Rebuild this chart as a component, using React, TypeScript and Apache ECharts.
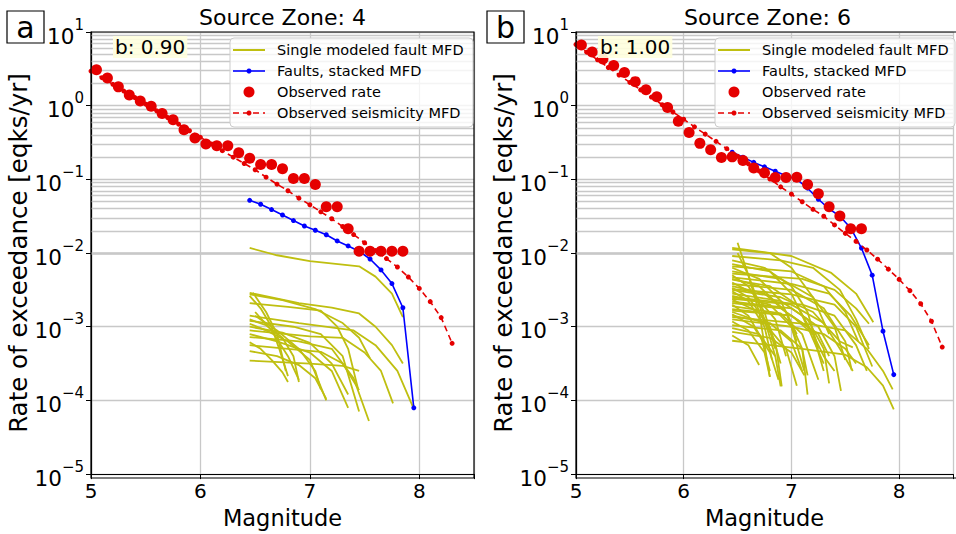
import React, { useEffect, useRef } from 'react';
import * as echarts from 'echarts';

// ---------------- data ----------------
const zone4ObsMag = [5.05, 5.15, 5.25, 5.35, 5.45, 5.55, 5.65, 5.75, 5.85, 5.95, 6.05, 6.15, 6.25, 6.35, 6.45, 6.55, 6.65, 6.75, 6.85, 6.95, 7.05, 7.15, 7.25, 7.35, 7.45, 7.55, 7.65, 7.75, 7.85];
const zone4ObsRate = [3.08, 2.38, 1.8, 1.4, 1.16, 0.98, 0.785, 0.645, 0.47, 0.365, 0.303, 0.285, 0.286, 0.23, 0.194, 0.159, 0.159, 0.139, 0.103, 0.103, 0.085, 0.0425, 0.0425, 0.0213, 0.0106, 0.0106, 0.0106, 0.0106, 0.0106];

const zone4MfdMag = [5.0, 5.1, 5.2, 5.3, 5.4, 5.5, 5.6, 5.7, 5.8, 5.9, 6.0, 6.1, 6.2, 6.3, 6.4, 6.5, 6.6, 6.7, 6.8, 6.9, 7.0, 7.1, 7.2, 7.3, 7.4, 7.5, 7.6, 7.7, 7.8, 7.9, 8.0, 8.1, 8.2, 8.3];
const zone4MfdRate = [2.95, 2.4, 1.95, 1.58, 1.29, 1.05, 0.851, 0.692, 0.562, 0.457, 0.372, 0.302, 0.245, 0.2, 0.164, 0.135, 0.107, 0.0861, 0.07, 0.0556, 0.0452, 0.0363, 0.0292, 0.0229, 0.0178, 0.0138, 0.0108, 0.00841, 0.00646, 0.00473, 0.00331, 0.00219, 0.00133, 0.000596];

const stackedMag = [6.45, 6.55, 6.65, 6.75, 6.85, 6.95, 7.05, 7.15, 7.25, 7.35, 7.45, 7.55, 7.65, 7.75, 7.85, 7.95];
const zone4StackedRate = [0.052, 0.046, 0.0389, 0.0328, 0.0276, 0.0233, 0.0204, 0.0177, 0.0146, 0.0125, 0.0106, 0.0083, 0.0059, 0.00385, 0.00181, 0.0000794];

const zone6ObsMag = [5.05, 5.15, 5.25, 5.35, 5.45, 5.55, 5.65, 5.75, 5.85, 5.95, 6.05, 6.15, 6.25, 6.35, 6.45, 6.55, 6.65, 6.75, 6.85, 6.95, 7.05, 7.15, 7.25, 7.35, 7.45, 7.55, 7.65];
const zone6ObsRate = [6.67, 5.37, 4.29, 3.52, 2.83, 2.12, 1.64, 1.32, 0.948, 0.615, 0.434, 0.308, 0.253, 0.198, 0.202, 0.18, 0.143, 0.123, 0.106, 0.106, 0.107, 0.085, 0.064, 0.0425, 0.0318, 0.0213, 0.0213];

const zone6MfdMag = [5.0, 5.1, 5.2, 5.3, 5.4, 5.5, 5.6, 5.7, 5.8, 5.9, 6.0, 6.1, 6.2, 6.3, 6.4, 6.5, 6.6, 6.7, 6.8, 6.9, 7.0, 7.1, 7.2, 7.3, 7.4, 7.5, 7.6, 7.7, 7.8, 7.9, 8.0, 8.1, 8.2, 8.3, 8.4];
const zone6MfdRate = [6.76, 5.32, 4.19, 3.3, 2.61, 2.07, 1.64, 1.31, 1.03, 0.82, 0.655, 0.516, 0.411, 0.328, 0.261, 0.206, 0.163, 0.13, 0.101, 0.0791, 0.0631, 0.0497, 0.0392, 0.0316, 0.0241, 0.0185, 0.0144, 0.011, 0.00826, 0.00605, 0.00439, 0.00309, 0.00205, 0.00119, 0.00053];

const zone6StackedRate = [0.234, 0.2, 0.17, 0.148, 0.129, 0.112, 0.1, 0.0759, 0.0537, 0.0398, 0.0316, 0.0219, 0.0117, 0.00501, 0.00087, 0.000224];

// single modeled fault MFDs: [magnitude, log10(rate)]
const zone4FaultLogRates: number[][][] = [
  [[6.45, -1.93], [6.7, -2.03], [7.0, -2.11], [7.45, -2.18], [7.6, -2.32], [7.75, -2.55], [7.85, -2.87]],
  [[6.45, -2.54], [6.9, -2.68], [7.2, -2.74], [7.45, -2.82], [7.6, -3.0], [7.75, -3.25], [7.85, -3.5]],
  [[6.45, -2.56], [6.75, -2.64], [7.05, -2.76], [7.3, -2.95], [7.45, -3.15], [7.55, -3.43]],
  [[6.45, -2.58], [6.55, -2.75], [6.65, -3.0], [6.72, -3.3], [6.8, -3.67]],
  [[6.45, -2.68], [6.8, -2.73], [7.1, -2.78], [7.25, -3.0], [7.35, -3.3], [7.44, -3.84]],
  [[6.45, -2.85], [6.9, -2.95], [7.4, -3.05], [7.6, -3.25], [7.8, -3.6], [7.94, -4.08]],
  [[6.45, -2.9], [6.6, -2.98], [6.75, -3.15], [6.85, -3.4], [6.9, -3.75]],
  [[6.45, -2.92], [6.85, -3.0], [7.1, -3.1], [7.3, -3.4], [7.45, -4.15]],
  [[6.45, -2.96], [6.6, -3.05], [6.8, -3.2], [7.0, -3.45], [7.15, -4.0]],
  [[6.45, -3.05], [7.0, -3.13], [7.3, -3.15], [7.5, -3.35], [7.65, -3.6], [7.76, -4.04]],
  [[6.45, -3.1], [6.7, -3.2], [7.0, -3.35], [7.2, -3.6], [7.35, -4.1]],
  [[6.45, -3.14], [6.9, -3.2], [7.2, -3.3], [7.4, -3.7], [7.54, -4.28]],
  [[6.45, -3.21], [6.55, -3.3], [6.65, -3.45], [6.75, -3.62], [6.8, -3.75]],
  [[6.45, -3.25], [6.8, -3.3], [7.1, -3.34], [7.3, -3.5], [7.45, -3.86]],
  [[6.45, -3.33], [6.7, -3.4], [6.9, -3.52], [7.05, -3.7], [7.15, -3.98]],
  [[6.45, -3.46], [7.0, -3.5], [7.3, -3.53], [7.45, -3.6]],
  [[6.48, -2.54], [6.6, -2.8], [6.7, -3.1], [6.78, -3.6]],
  [[6.5, -2.8], [6.65, -3.05], [6.8, -3.4], [6.9, -3.72]],
  [[6.5, -2.85], [6.7, -3.05], [6.9, -3.3], [7.05, -3.6], [7.1, -3.85]],
  [[6.45, -3.0], [6.75, -3.08], [7.0, -3.22], [7.2, -3.5], [7.35, -3.92]],
];

const zone6FaultLogRates: number[][][] = [
  [[6.45, -1.93], [7.0, -2.04], [7.37, -2.27], [7.6, -2.55], [7.76, -2.94]],
  [[6.45, -1.95], [6.8, -2.0], [7.0, -2.2], [7.2, -2.6], [7.35, -3.1]],
  [[6.5, -1.86], [6.6, -2.3], [6.7, -2.8], [6.8, -3.68]],
  [[6.45, -2.04], [6.9, -2.1], [7.2, -2.2], [7.45, -2.5], [7.6, -2.9], [7.72, -3.3]],
  [[6.45, -2.1], [6.75, -2.2], [7.0, -2.45], [7.15, -2.8], [7.25, -3.3]],
  [[6.45, -2.18], [7.0, -2.25], [7.3, -2.45], [7.5, -2.8], [7.62, -3.2]],
  [[6.45, -2.2], [6.7, -2.35], [6.9, -2.65], [7.05, -3.1]],
  [[6.45, -2.25], [6.9, -2.35], [7.2, -2.6], [7.4, -3.0], [7.5, -3.45]],
  [[6.45, -2.3], [6.6, -2.45], [6.75, -2.8], [6.85, -3.3]],
  [[6.45, -2.33], [7.0, -2.42], [7.35, -2.55], [7.55, -2.85], [7.72, -3.25]],
  [[6.45, -2.36], [6.8, -2.45], [7.05, -2.7], [7.2, -3.1], [7.3, -3.6]],
  [[6.45, -2.4], [6.65, -2.55], [6.85, -2.9], [6.95, -3.4]],
  [[6.45, -2.42], [7.0, -2.5], [7.3, -2.75], [7.5, -3.2], [7.56, -3.59]],
  [[6.45, -2.45], [6.75, -2.55], [6.95, -2.8], [7.1, -3.3], [7.15, -3.66]],
  [[6.45, -2.49], [7.0, -2.56], [7.4, -2.7], [7.6, -3.0], [7.75, -3.54]],
  [[6.45, -2.52], [6.6, -2.65], [6.75, -3.0], [6.82, -3.45]],
  [[6.45, -2.55], [6.9, -2.65], [7.15, -2.9], [7.3, -3.3], [7.35, -3.77]],
  [[6.45, -2.58], [6.8, -2.7], [7.0, -3.0], [7.12, -3.6]],
  [[6.45, -2.6], [7.1, -2.7], [7.4, -2.85], [7.6, -3.25], [7.7, -3.6]],
  [[6.45, -2.63], [6.7, -2.8], [6.85, -3.2], [6.91, -3.81]],
  [[6.45, -2.66], [7.0, -2.75], [7.25, -3.0], [7.4, -3.4], [7.46, -3.87]],
  [[6.45, -2.7], [6.6, -2.85], [6.72, -3.15], [6.8, -3.6]],
  [[6.45, -2.72], [6.9, -2.82], [7.1, -3.1], [7.25, -3.72]],
  [[6.45, -2.76], [7.0, -2.85], [7.2, -3.1], [7.3, -3.4], [7.4, -3.6]],
  [[6.45, -2.8], [6.75, -2.95], [6.95, -3.3], [7.05, -3.8]],
  [[6.45, -2.83], [6.65, -3.0], [6.8, -3.35], [6.88, -3.72]],
  [[6.45, -2.87], [7.2, -2.97], [7.5, -3.05], [7.7, -3.3], [7.85, -3.6], [7.94, -3.85]],
  [[6.45, -2.9], [7.0, -3.0], [7.3, -3.1], [7.5, -3.3], [7.6, -3.5]],
  [[6.45, -2.93], [6.6, -3.05], [6.75, -3.35], [6.8, -3.68]],
  [[6.45, -2.98], [6.9, -3.05], [7.1, -3.3], [7.15, -3.92]],
  [[6.45, -3.02], [6.7, -3.1], [6.85, -3.4], [6.9, -3.81]],
  [[6.45, -3.07], [6.8, -3.15], [7.0, -3.35], [7.12, -3.66]],
  [[6.45, -3.12], [6.6, -3.25], [6.7, -3.52]],
  [[6.45, -3.19], [7.1, -3.3], [7.5, -3.38], [7.7, -3.55], [7.85, -3.8], [7.95, -4.12]],
  [[6.45, -2.5], [6.9, -2.6], [7.2, -2.8], [7.45, -3.2], [7.57, -3.28]],
  [[6.45, -2.28], [7.1, -2.35], [7.4, -2.5], [7.6, -2.75], [7.72, -2.96]],
  [[6.45, -2.15], [6.8, -2.25], [7.0, -2.55], [7.15, -3.0]],
  [[6.45, -2.62], [7.0, -2.7], [7.3, -2.95], [7.45, -3.3], [7.57, -3.6]],
  [[6.45, -2.68], [6.9, -2.75], [7.15, -3.0], [7.3, -3.5]],
  [[6.45, -2.35], [6.7, -2.45], [6.95, -2.8], [7.05, -3.2]],
  [[6.45, -2.78], [7.0, -2.85], [7.25, -3.1], [7.35, -3.4]],
  [[6.45, -2.47], [6.6, -2.6], [6.8, -3.0], [6.9, -3.5]],
  [[6.5, -2.0], [6.6, -2.3], [6.75, -2.9], [6.85, -3.4]],
  [[6.45, -2.85], [6.8, -2.95], [7.0, -3.2], [7.1, -3.6]],
];

const panelTitles = ['Source Zone: 4', 'Source Zone: 6'];
const panelLetters = ['a', 'b'];
const bValueLabels = ['b: 0.90', 'b: 1.00'];
const legendNames = ['Single modeled fault MFD', 'Faults, stacked MFD', 'Observed rate', 'Observed seismicity MFD'];
const xTickLabels = [5, 6, 7, 8];
const minorMantissas = [2, 3, 4, 5, 6, 7, 8, 9];
const decadeExponents = [-5, -4, -3, -2, -1, 0];

// ---------------- styling ----------------
const FONT = "'DejaVu Sans', Verdana, sans-serif";
const YELLOW = '#bfbf10';
const BLUE = '#0000ff';
const RED = '#e50000';
const GRID_COLOR = '#c8c8c8';

const panels = [
  { left: 91, obsMag: zone4ObsMag, obsRate: zone4ObsRate, mfdMag: zone4MfdMag, mfdRate: zone4MfdRate, stackRate: zone4StackedRate, faults: zone4FaultLogRates, legendX: 230, legendW: 243, bX: 113 },
  { left: 576, obsMag: zone6ObsMag, obsRate: zone6ObsRate, mfdMag: zone6MfdMag, mfdRate: zone6MfdRate, stackRate: zone6StackedRate, faults: zone6FaultLogRates, legendX: 715, legendW: 240, bX: 598 },
];
const GRID_TOP = 32;
const GRID_W = 383;
const GRID_H = 446;

function supLabel(v: number) {
  const e = Math.round(Math.log10(v));
  const s = e < 0 ? '\u2212' + String(-e) : String(e);
  return '{b|10}{s|' + s + '}';
}

function buildOption() {
  const grid: any[] = [];
  const xAxis: any[] = [];
  const yAxis: any[] = [];
  const series: any[] = [];
  const graphic: any[] = [];

  const minorLines = decadeExponents.flatMap((e) => minorMantissas.map((m) => ({ yAxis: m * Math.pow(10, e) })));

  panels.forEach((p, i) => {
    grid.push({ left: p.left, top: GRID_TOP, width: GRID_W, height: GRID_H, containLabel: false });
    xAxis.push({
      type: 'value', gridIndex: i, min: 5, max: 8.5, interval: 1,
      name: 'Magnitude', nameLocation: 'middle', nameGap: 28,
      nameTextStyle: { fontSize: 22.5, fontFamily: FONT, color: '#000' },
      axisLine: { show: true, onZero: false, lineStyle: { color: '#000', width: 1.2 } },
      axisTick: { show: true, length: 5, inside: false, lineStyle: { color: '#000', width: 1 } },
      axisLabel: {
        fontSize: 20, fontFamily: FONT, color: '#000', margin: 7,
        formatter: (v: number) => (xTickLabels.indexOf(v) >= 0 ? String(v) : ''),
      },
      splitLine: { show: true, lineStyle: { color: GRID_COLOR, width: 1.3 } },
    });
    yAxis.push({
      type: 'log', gridIndex: i, logBase: 10, min: 1e-5, max: 10, splitNumber: 6,
      name: 'Rate of exceedance [eqks/yr]', nameLocation: 'middle', nameGap: 55,
      nameTextStyle: { fontSize: 24.5, fontFamily: FONT, color: '#000' },
      axisLine: { show: true, onZero: false, lineStyle: { color: '#000', width: 1.2 } },
      axisTick: { show: true, length: 5, lineStyle: { color: '#000', width: 1 } },
      minorTick: { show: false },
      axisLabel: {
        margin: 7, color: '#000', fontFamily: FONT,
        formatter: supLabel,
        rich: {
          b: { fontSize: 21.5, fontFamily: FONT, color: '#000', lineHeight: 30, verticalAlign: 'bottom' },
          s: { fontSize: 15, fontFamily: FONT, color: '#000', lineHeight: 14, verticalAlign: 'top' },
        },
      },
      splitLine: { show: true, lineStyle: { color: GRID_COLOR, width: 1.3 } },
    });

    // minor log gridlines (2..9 x 10^k)
    series.push({
      type: 'line', xAxisIndex: i, yAxisIndex: i, data: [[5, 1]], symbol: 'none', silent: true,
      lineStyle: { width: 0, opacity: 0 }, z: 1,
      markLine: {
        silent: true, symbol: ['none', 'none'], z: 1, animation: false,
        label: { show: false },
        lineStyle: { type: 'solid', color: GRID_COLOR, width: 1.3 },
        emphasis: { disabled: true },
        data: minorLines,
      },
    });

    p.faults.forEach((pts) => {
      series.push({
        type: 'line', name: legendNames[0], xAxisIndex: i, yAxisIndex: i,
        data: pts.map(([m, l]) => [m, Math.pow(10, l)]),
        symbol: 'none', silent: true, z: 2,
        lineStyle: { color: YELLOW, width: 1.8 }, itemStyle: { color: YELLOW },
      });
    });

    series.push({
      type: 'line', name: legendNames[1], xAxisIndex: i, yAxisIndex: i,
      data: stackedMag.map((m, k) => [m, p.stackRate[k]]),
      symbol: 'circle', symbolSize: 5, showAllSymbol: true, z: 3,
      lineStyle: { color: BLUE, width: 1.6 }, itemStyle: { color: BLUE, opacity: 1 },
    });
    series.push({
      type: 'scatter', name: legendNames[2], xAxisIndex: i, yAxisIndex: i,
      data: p.obsMag.map((m, k) => [m, p.obsRate[k]]),
      symbol: 'circle', symbolSize: 11, z: 4,
      itemStyle: { color: RED, opacity: 1 },
    });
    series.push({
      type: 'line', name: legendNames[3], xAxisIndex: i, yAxisIndex: i,
      data: p.mfdMag.map((m, k) => [m, p.mfdRate[k]]),
      symbol: 'circle', symbolSize: 5, showAllSymbol: true, z: 5,
      lineStyle: { color: RED, width: 1.6, type: [6, 4] }, itemStyle: { color: RED, opacity: 1 },
    });

    // frame
    graphic.push({ type: 'rect', z: 50, silent: true, shape: { x: p.left, y: GRID_TOP, width: GRID_W, height: GRID_H }, style: { fill: 'none', stroke: '#000', lineWidth: 1.2 } });
    // title
    graphic.push({ type: 'text', z: 60, x: p.left + GRID_W / 2, y: 17, style: { text: panelTitles[i], fontSize: 22, fontFamily: FONT, fill: '#000', align: 'center', verticalAlign: 'middle' } });
    // panel letter
    const bx = i === 0 ? 7 : 487;
    graphic.push({ type: 'rect', z: 60, shape: { x: bx, y: 11, width: 37, height: 32 }, style: { fill: '#fff', stroke: '#000', lineWidth: 1.2 } });
    graphic.push({ type: 'text', z: 61, x: bx + 18.5, y: 27, style: { text: panelLetters[i], fontSize: 30, fontFamily: FONT, fill: '#000', align: 'center', verticalAlign: 'middle' } });
    // b-value box
    graphic.push({ type: 'text', z: 60, x: p.bX, y: 47, style: { text: bValueLabels[i], fontSize: 20, fontFamily: FONT, fill: '#000', align: 'left', verticalAlign: 'middle', backgroundColor: 'rgba(255,255,222,0.9)', padding: [1, 2, 1, 2] } });

    // legend
    const lx = p.legendX;
    graphic.push({ type: 'rect', z: 70, shape: { x: lx, y: 38, width: p.legendW, height: 89, r: 4 }, style: { fill: 'rgba(255,255,255,0.8)', stroke: '#cccccc', lineWidth: 1 } });
    const rows = [50, 71, 92, 113];
    const hx0 = lx + 3;
    const hx1 = lx + 35;
    const hc = (hx0 + hx1) / 2;
    const tx = lx + 47;
    graphic.push({ type: 'line', z: 71, shape: { x1: hx0, y1: rows[0], x2: hx1, y2: rows[0] }, style: { stroke: YELLOW, lineWidth: 2 } });
    graphic.push({ type: 'line', z: 71, shape: { x1: hx0, y1: rows[1], x2: hx1, y2: rows[1] }, style: { stroke: BLUE, lineWidth: 1.6 } });
    graphic.push({ type: 'circle', z: 72, shape: { cx: hc, cy: rows[1], r: 2.5 }, style: { fill: BLUE } });
    graphic.push({ type: 'circle', z: 72, shape: { cx: hc, cy: rows[2], r: 5.5 }, style: { fill: RED } });
    graphic.push({ type: 'line', z: 71, shape: { x1: hx0, y1: rows[3], x2: hx1, y2: rows[3] }, style: { stroke: RED, lineWidth: 1.6, lineDash: [6, 4] } });
    graphic.push({ type: 'circle', z: 72, shape: { cx: hc, cy: rows[3], r: 2.5 }, style: { fill: RED } });
    legendNames.forEach((n, k) => {
      graphic.push({ type: 'text', z: 72, x: tx, y: rows[k], style: { text: n, fontSize: 14.5, fontFamily: FONT, fill: '#000', align: 'left', verticalAlign: 'middle' } });
    });
  });

  return {
    animation: false,
    backgroundColor: '#ffffff',
    textStyle: { fontFamily: FONT },
    grid, xAxis, yAxis, series, graphic,
  };
}

export default function App() {
  const ref = useRef<HTMLDivElement>(null);
  useEffect(() => {
    if (!ref.current) return;
    const chart = echarts.init(ref.current, null, { renderer: 'svg', width: 956, height: 534 });
    chart.setOption(buildOption() as any);
    return () => chart.dispose();
  }, []);
  return <div ref={ref} style={{ position: 'absolute', left: 0, top: 0, width: 956, height: 534, background: '#fff' }} />;
}
